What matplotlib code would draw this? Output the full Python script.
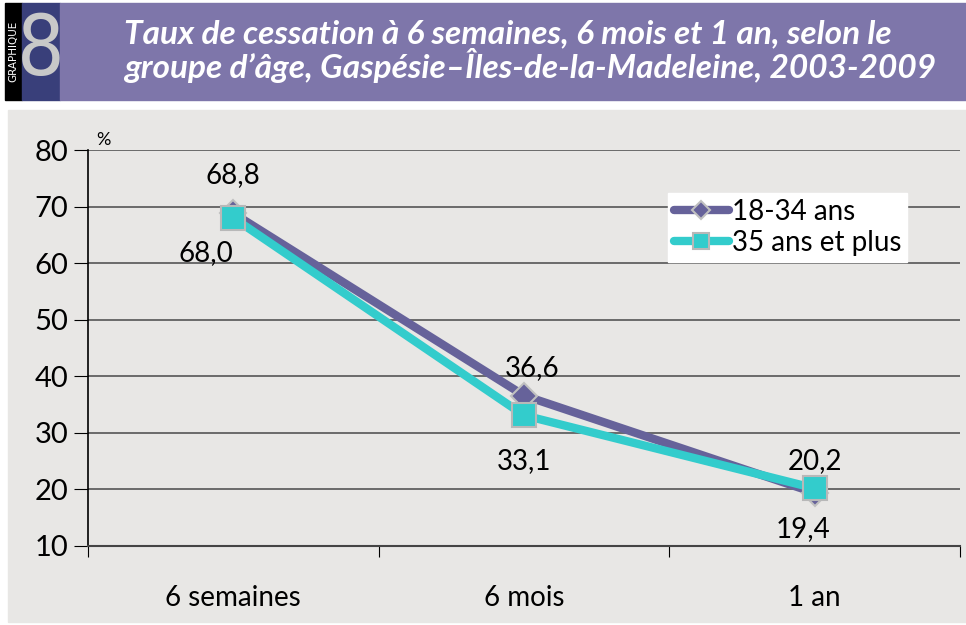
import matplotlib.pyplot as plt
from matplotlib.patches import Rectangle

categories = ['6 semaines', '6 mois', '1 an']
jeunes = [68.8, 36.6, 19.4]
aines = [68.0, 33.1, 20.2]
series_names = ['18-34 ans', '35 ans et plus']
title = "Taux de cessation à 6 semaines, 6 mois et 1 an, selon le\ngroupe d\u2019âge, Gaspésie\u2013Îles-de-la-Madeleine, 2003-2009"

plt.rcParams['font.family'] = ['Lato', 'DejaVu Sans']

fig = plt.figure(figsize=(9.66, 6.25), dpi=100)
fig.patch.set_facecolor('white')

# header band
W, H = 966, 625
def box(x0, y0, x1, y1, color):
    fig.patches.append(Rectangle((x0 / W, 1 - y1 / H), (x1 - x0) / W, (y1 - y0) / H,
                                 transform=fig.transFigure, color=color, zorder=-5))

box(5, 3, 22, 100, 'black')
box(22, 3, 60, 100, '#393f7a')
box(60, 3, 966, 100, '#7e76aa')
box(8, 110, 966, 622, '#e8e7e5')

fig.text(13.5 / W, 1 - 51 / H, 'GRAPHIQUE', rotation=90, color='white',
         fontsize=7.5, ha='center', va='center', family='DejaVu Sans')
fig.text(41 / W, 1 - 52 / H, '8', color='#c8c8c8', fontsize=60,
         ha='center', va='center', family='DejaVu Sans', stretch='condensed')
fig.text(124 / W, 1 - 51 / H, title, color='white', fontsize=24,
         fontweight='bold', style='italic', ha='left', va='center',
         linespacing=1.0)

ax = fig.add_axes([88 / W, 1 - 546 / H, (960 - 88) / W, (546 - 150) / H])
ax.set_zorder(2)
ax.set_facecolor('none')
x = range(len(categories))
ax.plot(x, jeunes, color='#66629a', lw=6, marker='D', ms=13,
        mfc='#66629a', mec='#c0c0c0', mew=1.5, label=series_names[0],
        solid_capstyle='round', zorder=3)
ax.plot(x, aines, color='#33cccc', lw=6, marker='s', ms=17,
        mfc='#33cccc', mec='#b8b8b8', mew=1.5, label=series_names[1],
        solid_capstyle='round', zorder=4)

ax.set_xlim(-0.5, 2.5)
ax.set_ylim(10, 80)
ax.set_yticks(range(10, 81, 10))
ax.set_xticks([-0.5, 0.5, 1.5, 2.5], minor=False)
ax.set_xticklabels([])
ax.set_xticks(list(x), minor=True)
ax.set_xticklabels(categories, minor=True, fontsize=20)
ax.tick_params(axis='x', which='minor', length=0, pad=28)
ax.tick_params(axis='x', which='major', length=8, direction='out', color='black')
ax.tick_params(axis='y', length=10, direction='out', labelsize=21, pad=4)
ax.grid(axis='y', color='#555555', lw=1.2)
ax.set_axisbelow(True)
for s in ['top', 'right']:
    ax.spines[s].set_visible(False)
ax.spines['left'].set_linewidth(1.2)
ax.spines['bottom'].set_linewidth(1.5)
ax.spines['bottom'].set_color('#444444')
ax.text(0.01, 1.005, '%', transform=ax.transAxes, fontsize=13, va='bottom')

fmt = lambda v: f'{v:.1f}'.replace('.', ',')
fs = 20
ax.annotate(fmt(jeunes[0]), (0, jeunes[0]), xytext=(0, 22), textcoords='offset points', ha='center', fontsize=fs)
ax.annotate(fmt(aines[0]), (0, aines[0]), xytext=(-20, -31), textcoords='offset points', ha='center', fontsize=fs)
ax.annotate(fmt(jeunes[1]), (1, jeunes[1]), xytext=(6, 14), textcoords='offset points', ha='center', fontsize=fs)
ax.annotate(fmt(aines[1]), (1, aines[1]), xytext=(0, -39), textcoords='offset points', ha='center', fontsize=fs)
ax.annotate(fmt(aines[2]), (2, aines[2]), xytext=(0, 14), textcoords='offset points', ha='center', fontsize=fs)
ax.annotate(fmt(jeunes[2]), (2, jeunes[2]), xytext=(-8, -32), textcoords='offset points', ha='center', fontsize=fs)

leg = ax.legend(loc='upper left', bbox_to_anchor=((668 - 88) / 872, 1 - (193 - 150) / 396),
                fontsize=20, frameon=True, fancybox=False, handlelength=2.0,
                handletextpad=0.1, borderpad=0.2, labelspacing=0.2, borderaxespad=0,
                markerscale=0.7)
leg.get_frame().set_facecolor('white')
leg.get_frame().set_edgecolor('white')
leg.get_frame().set_alpha(1)

fig.savefig('out.png', dpi=100)
